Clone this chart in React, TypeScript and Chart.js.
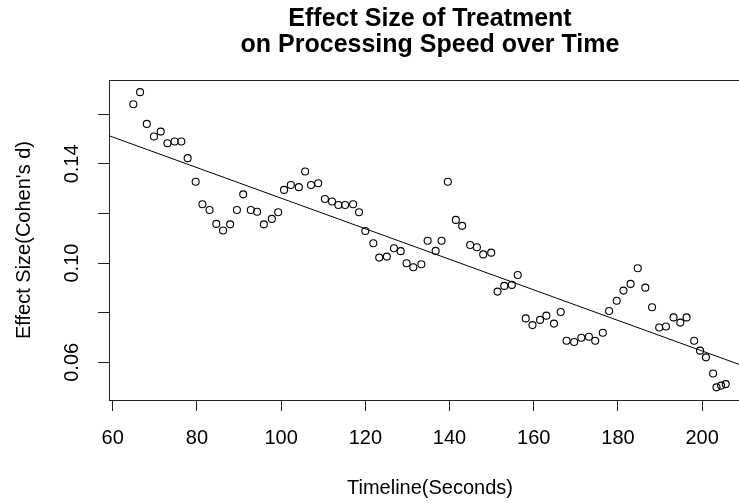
import React, { useEffect, useRef } from 'react';
import { Chart, registerables } from 'chart.js';

Chart.register(...registerables);

// ---- data ----
const TIME_SECONDS = [
  64.9, 66.5, 68.1, 69.8, 71.4, 73.0, 74.7, 76.3, 77.8, 79.7,
  81.3, 83.0, 84.6, 86.2, 87.9, 89.5, 91.0, 92.8, 94.3, 95.9,
  97.8, 99.3, 100.7, 102.3, 104.2, 105.7, 107.1, 108.8, 110.4, 112.1,
  113.6, 115.2, 117.1, 118.5, 120.0, 121.9, 123.3, 125.1, 126.8, 128.4,
  129.8, 131.4, 133.3, 134.8, 136.7, 138.1, 139.6, 141.5, 143.0, 144.9,
  146.5, 148.0, 149.9, 151.4, 153.0, 154.8, 156.2, 158.1, 159.7, 161.5,
  163.0, 164.8, 166.4, 167.8, 169.6, 171.3, 173.1, 174.6, 176.4, 177.9,
  179.7, 181.3, 183.0, 184.7, 186.5, 188.1, 189.8, 191.4, 193.2, 194.8,
  196.3, 198.1, 199.5, 200.9, 202.6, 203.4, 204.5, 205.6,
];

const EFFECT_SIZE = [
  0.1640, 0.1689, 0.1561, 0.1510, 0.1530, 0.1483, 0.1490, 0.1490, 0.1423, 0.1328,
  0.1237, 0.1214, 0.1158, 0.1131, 0.1156, 0.1214, 0.1277, 0.1214, 0.1207, 0.1156,
  0.1178, 0.1205, 0.1295, 0.1315, 0.1306, 0.1369, 0.1315, 0.1322, 0.1258, 0.1248,
  0.1234, 0.1234, 0.1237, 0.1205, 0.1129, 0.1080, 0.1022, 0.1026, 0.1060, 0.1048,
  0.0999, 0.0983, 0.0995, 0.1090, 0.1049, 0.1090, 0.1328, 0.1174, 0.1150, 0.1073,
  0.1064, 0.1035, 0.1042, 0.0885, 0.0908, 0.0912, 0.0952, 0.0777, 0.0750, 0.0771,
  0.0788, 0.0756, 0.0803, 0.0687, 0.0682, 0.0699, 0.0703, 0.0687, 0.0719, 0.0807,
  0.0848, 0.0889, 0.0916, 0.0979, 0.0901, 0.0822, 0.0740, 0.0744, 0.0781, 0.0760,
  0.0781, 0.0687, 0.0647, 0.0620, 0.0555, 0.0499, 0.0506, 0.0512,
];

// fitted regression line (value at 60 s and slope per second)
const FIT_AT_60 = 0.1508;
const FIT_SLOPE = -0.000616;

const X_TICKS = [60, 80, 100, 120, 140, 160, 180, 200];
const X_TICK_LABELS = ['60', '80', '100', '120', '140', '160', '180', '200'];
const Y_TICKS = [0.06, 0.08, 0.10, 0.12, 0.14, 0.16];
const Y_TICK_LABELS = ['0.06', '', '0.10', '', '0.14', ''];

const X_LIMITS = [59.12, 211.6];
const Y_LIMITS = [0.0448, 0.1738];

const TITLE_LINES = ['Effect Size of Treatment', 'on Processing Speed over Time'];
const X_TITLE = 'Timeline(Seconds)';
const Y_TITLE = "Effect Size(Cohen's d)";

const FONT = "'Liberation Sans', Arial, Helvetica, sans-serif";
const INK = '#000';
const AXIS = '#222';

const CANVAS_W = 860;
const CANVAS_H = 503;

const boxPlugin = {
  id: 'rBox',
  afterDraw(chart: any) {
    const { ctx, chartArea } = chart;
    const l = Math.round(chartArea.left) + 0.5;
    const t = Math.round(chartArea.top) + 0.5;
    const r = Math.round(chartArea.right) + 0.5;
    const b = Math.round(chartArea.bottom) + 0.5;
    ctx.save();
    ctx.strokeStyle = AXIS;
    ctx.lineWidth = 1;
    ctx.strokeRect(l, t, r - l, b - t);
    ctx.restore();
  },
};

export default function App() {
  const ref = useRef<HTMLCanvasElement | null>(null);

  useEffect(() => {
    if (!ref.current) return;
    const points = TIME_SECONDS.map((x, i) => ({ x, y: EFFECT_SIZE[i] }));
    const fit = (x: number) => FIT_AT_60 + FIT_SLOPE * (x - 60);
    const fitLine = X_LIMITS.map((x) => ({ x, y: fit(x) }));

    const chart = new Chart(ref.current, {
      type: 'scatter',
      data: {
        datasets: [
          {
            label: 'Effect size',
            data: points,
            pointRadius: 3.5,
            pointHoverRadius: 3.5,
            pointBorderWidth: 1.1,
            pointBackgroundColor: 'rgba(0,0,0,0)',
            pointBorderColor: INK,
            showLine: false,
          },
          {
            label: 'Fit',
            data: fitLine,
            showLine: true,
            borderColor: INK,
            borderWidth: 1,
            pointRadius: 0,
            fill: false,
          } as any,
        ],
      },
      options: {
        responsive: false,
        animation: false,
        devicePixelRatio: 1,
        events: [],
        layout: { padding: { left: 0, right: CANVAS_W - 751, top: 0, bottom: 0 } },
        plugins: {
          legend: { display: false },
          tooltip: { enabled: false },
          title: {
            display: true,
            fullSize: false,
            text: TITLE_LINES,
            color: INK,
            font: { family: FONT, size: 25, weight: 'bold', lineHeight: '26px' },
            padding: { top: 6.4, bottom: 21.6 },
          },
        },
        scales: {
          x: {
            type: 'linear',
            min: X_LIMITS[0],
            max: X_LIMITS[1],
            afterBuildTicks: (s: any) => {
              s.ticks = X_TICKS.map((v) => ({ value: v }));
            },
            afterFit: (s: any) => {
              s.height = 103;
            },
            grid: {
              display: true,
              drawOnChartArea: false,
              drawTicks: true,
              tickLength: 11,
              color: AXIS,
              tickColor: AXIS,
            },
            border: { display: false },
            ticks: {
              autoSkip: false,
              maxRotation: 0,
              minRotation: 0,
              padding: 15,
              color: INK,
              font: { family: FONT, size: 20 },
              callback: (v: any) => {
                const i = X_TICKS.findIndex((t) => Math.abs(t - Number(v)) < 1e-9);
                return i >= 0 ? X_TICK_LABELS[i] : '';
              },
            },
            title: {
              display: true,
              text: X_TITLE,
              color: INK,
              font: { family: FONT, size: 20 },
              padding: { top: 0, bottom: 3 },
            },
          },
          y: {
            type: 'linear',
            min: Y_LIMITS[0],
            max: Y_LIMITS[1],
            afterBuildTicks: (s: any) => {
              s.ticks = Y_TICKS.map((v) => ({ value: v }));
            },
            afterFit: (s: any) => {
              s.width = 109;
            },
            grid: {
              display: true,
              drawOnChartArea: false,
              drawTicks: true,
              tickLength: 11,
              color: AXIS,
              tickColor: AXIS,
            },
            border: { display: false },
            ticks: {
              autoSkip: false,
              minRotation: 90,
              maxRotation: 90,
              crossAlign: 'center',
              padding: 5.6,
              color: INK,
              font: { family: FONT, size: 20 },
              callback: (v: any) => {
                const i = Y_TICKS.findIndex((t) => Math.abs(t - Number(v)) < 1e-9);
                return i >= 0 ? Y_TICK_LABELS[i] : '';
              },
            },
            title: {
              display: true,
              text: Y_TITLE,
              color: INK,
              font: { family: FONT, size: 20 },
              padding: { top: 12.5, bottom: 0 },
            },
          },
        },
      } as any,
      plugins: [boxPlugin],
    });
    return () => chart.destroy();
  }, []);

  return (
    <div
      style={{
        position: 'fixed',
        left: 0,
        top: 0,
        width: 739,
        height: 503,
        overflow: 'hidden',
        background: '#fff',
      }}
    >
      <canvas
        ref={ref}
        width={CANVAS_W}
        height={CANVAS_H}
        style={{ width: CANVAS_W, height: CANVAS_H, display: 'block' }}
      />
    </div>
  );
}
